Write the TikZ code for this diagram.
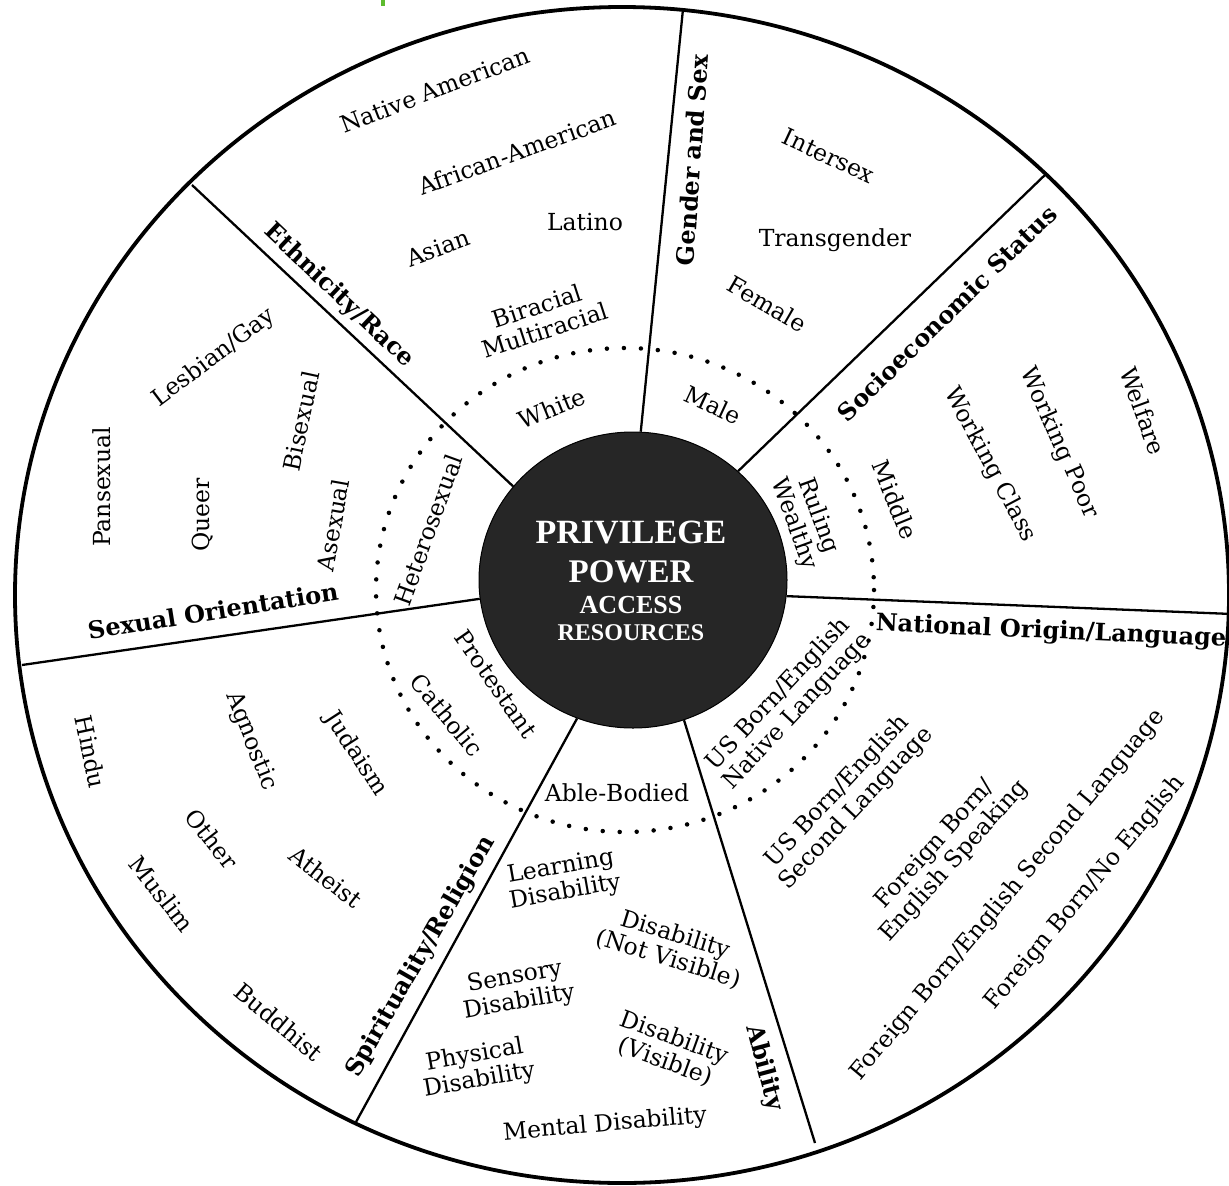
\documentclass[tikz,border=0pt]{standalone}
\usepackage{fontspec}
\setmainfont{DejaVu Serif}
\newfontfamily\ctrfont{Liberation Serif}
\usetikzlibrary{shapes.geometric}
\definecolor{hub}{HTML}{262626}
\definecolor{speck}{HTML}{5DBB2F}
\begin{document}
\begin{tikzpicture}[x=1pt,y=-1pt,
  item/.style={font=\fontsize{23.5}{25.5}\selectfont, align=center, inner sep=0pt},
  cat/.style={font=\bfseries\fontsize{24}{26}\selectfont, inner sep=0pt},
  spoke/.style={line width=2.3pt},
  rim/.style={line width=3.8pt},
  dots/.style={line width=4.5pt, line cap=round, dash pattern=on 0pt off 17pt},
  hubtext/.style={text=white, anchor=base, inner sep=0pt}]
\useasboundingbox (0,0) rectangle (1229,1186);
\fill[white] (0,0) rectangle (1229,1186);
\fill[speck] (381,0) rectangle (385,6);
% wheel
\draw[rim] (622,595) ellipse [x radius=607, y radius=588];
\draw[dots] (625,590) ellipse [x radius=249, y radius=242];
\node[ellipse, fill=hub, draw=black, line width=1pt, minimum width=308pt, minimum height=296pt, inner sep=0pt] (c) at (633,580) {};
% spokes
\coordinate (o1) at (192,185);
\coordinate (o2) at (683,9);
\coordinate (o3) at (1047,173);
\coordinate (o4) at (1232,614);
\coordinate (o5) at (815,1143);
\coordinate (o6) at (356,1122);
\coordinate (o7) at (22,665);
\draw[spoke] (c.142) -- (o1);
\draw[spoke] (c.87) -- (o2);
\draw[spoke] (c.46) -- (o3);
\draw[spoke] (c.354) -- (o4);
\draw[spoke] (c.290) -- (o5);
\draw[spoke] (c.248) -- (o6);
\draw[spoke] (c.187.5) -- (o7);
% hub text
\node[hubtext, font=\ctrfont\bfseries\fontsize{34}{36}\selectfont] (h1) at (631,543) {PRIVILEGE};
\node[hubtext, font=\ctrfont\bfseries\fontsize{33}{36}\selectfont] (h2) at (631,582) {POWER};
\node[hubtext, font=\ctrfont\bfseries\fontsize{26}{28}\selectfont] (h3) at (631,613) {ACCESS};
\node[hubtext, font=\ctrfont\bfseries\fontsize{24}{26}\selectfont] (h4) at (631,640) {RESOURCES};
% category labels
\node[cat, rotate=-43.5] (kEth) at (339,296) {Ethnicity/Race};
\node[cat, rotate=86] (kGen) at (692,160) {Gender and Sex};
\node[cat, rotate=44.5] (kSes) at (947,313) {Socioeconomic Status};
\node[cat, rotate=-2.5] (kNat) at (1051,632) {National Origin/Language};
\node[cat, rotate=-75] (kAbl) at (764,1068) {Ability};
\node[cat, rotate=60] (kRel) at (421,957) {Spirituality/Religion};
\node[cat, rotate=9] (kSex) at (213,611) {Sexual Orientation};
% ethnicity / race
\node[item, rotate=21] (e1) at (435,90) {Native American};
\node[item, rotate=20] (e2) at (517,152) {African-American};
\node[item, rotate=20] (e3) at (438,248) {Asian};
\node[item] (e4) at (585,222) {Latino};
\node[item, rotate=18] (e5) at (541,318) {Biracial\\Multiracial};
\node[item, rotate=22] (e6) at (552,408) {White};
% gender and sex
\node[item, rotate=-25] (g1) at (829,156) {Intersex};
\node[item] (g2) at (835,240) {Transgender};
\node[item, rotate=-30] (g3) at (767,304) {Female};
\node[item, rotate=-25] (g4) at (713,405) {Male};
% socioeconomic status
\node[item, rotate=-70] (s1) at (806,520) {Ruling\\Wealthy};
\node[item, rotate=-68] (s2) at (895,500) {Middle};
\node[item, rotate=-62] (s3) at (990,465) {Working Class};
\node[item, rotate=-66] (s4) at (1059,443) {Working Poor};
\node[item, rotate=-70] (s5) at (1143,411) {Welfare};
% national origin / language
\node[item, rotate=47] (n1) at (788,703) {US Born/English\\Native Language};
\node[item, rotate=47] (n2) at (847,800) {US Born/English\\Second Language};
\node[item, rotate=48] (n3) at (945,853) {Foreign Born/\\English Speaking};
\node[item, rotate=50] (n4) at (1008,895) {Foreign Born/English Second Language};
\node[item, rotate=50] (n5) at (1085,893) {Foreign Born/No English};
% ability
\node[item] (a1) at (617,793) {Able-Bodied};
\node[item, rotate=10] (a2) at (563,880) {Learning\\Disability};
\node[item, rotate=-17] (a3) at (672,947) {Disability\\(Not Visible)};
\node[item, rotate=10] (a4) at (517,990) {Sensory\\Disability};
\node[item, rotate=-20] (a5) at (670,1050) {Disability\\(Visible)};
\node[item, rotate=10] (a6) at (477,1068) {Physical\\Disability};
\node[item, rotate=5] (a7) at (605,1125) {Mental Disability};
% spirituality / religion
\node[item, rotate=-55] (r1) at (496,684) {Protestant};
\node[item, rotate=-50] (r2) at (447,715) {Catholic};
\node[item, rotate=-78] (r3) at (91,752) {Hindu};
\node[item, rotate=-68] (r4) at (251,741) {Agnostic};
\node[item, rotate=-57] (r5) at (356,754) {Judaism};
\node[item, rotate=-52] (r6) at (212,839) {Other};
\node[item, rotate=-38] (r7) at (326,877) {Atheist};
\node[item, rotate=-52] (r8) at (162,894) {Muslim};
\node[item, rotate=-40] (r9) at (279,1022) {Buddhist};
% sexual orientation
\node[item, rotate=70] (x1) at (428,530) {Heterosexual};
\node[item, rotate=90] (x2) at (102,487) {Pansexual};
\node[item, rotate=90] (x3) at (203,515) {Queer};
\node[item, rotate=80] (x4) at (333,525) {Asexual};
\node[item, rotate=78] (x5) at (301,421) {Bisexual};
\node[item, rotate=37] (x6) at (214,358) {Lesbian/Gay};
\end{tikzpicture}
\end{document}
